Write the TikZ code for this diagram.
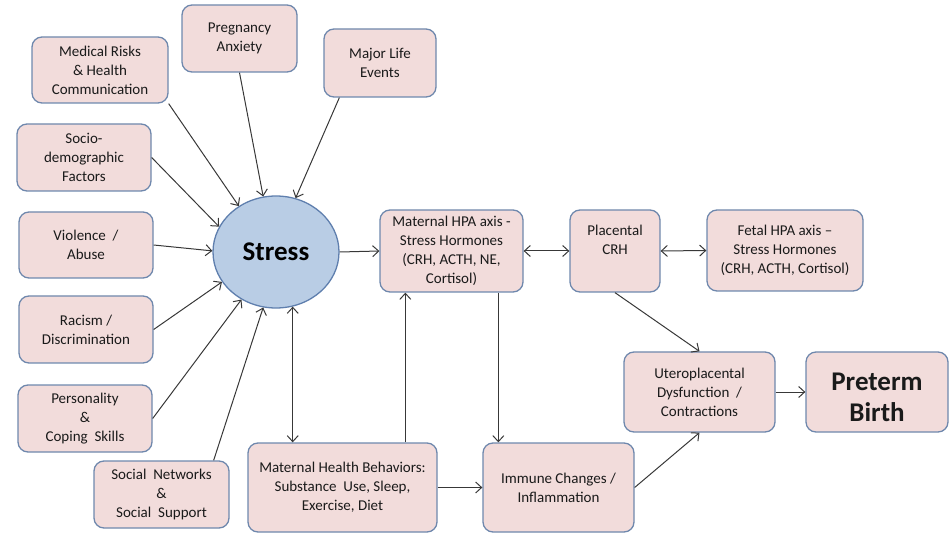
\documentclass[tikz,border=0pt]{standalone}
\usepackage{fontspec}
\setmainfont{Carlito}
\usetikzlibrary{arrows.meta,calc,shapes.geometric}
\definecolor{boxfill}{HTML}{F2DCDB}
\definecolor{boxline}{HTML}{6F88AD}
\definecolor{ellfill}{HTML}{B9CDE5}
\definecolor{ellline}{HTML}{5F7FAE}
\definecolor{arrcol}{HTML}{383838}
\definecolor{txt}{HTML}{1A1A1A}
\begin{document}
\begin{tikzpicture}[x=1pt,y=-1pt,
  box/.style={draw=boxline, fill=boxfill, line width=1.3pt, rounded corners=10pt,
    inner sep=0pt, align=center, text=txt,
    font=\fontsize{15}{19}\selectfont},
  arr/.style={draw=arrcol, line width=1pt, -{Straight Barb[length=6pt,width=11pt]}},
  dbl/.style={draw=arrcol, line width=1pt, {Straight Barb[length=6pt,width=11pt]}-{Straight Barb[length=6pt,width=11pt]}}
]
\useasboundingbox (0,0) rectangle (950,534);
% boxes
\node[box, minimum width=136pt, minimum height=66pt] (med) at (100,70) {Medical Risks\\\& Health\\Communication};
\node[box, minimum width=115pt, minimum height=67pt] (preg) at (239.5,38.5) {Pregnancy\\Anxiety};
\node[box, minimum width=112pt, minimum height=68pt] (major) at (380,63) {Major Life\\Events};
\node[box, minimum width=134pt, minimum height=67pt] (socio) at (84,157.5) {Socio-\\demographic\\Factors};
\node[box, minimum width=134pt, minimum height=66pt] (viol) at (86,245) {Violence\ \ /\\Abuse};
\node[box, minimum width=134pt, minimum height=67pt] (racism) at (86,329.5) {Racism /\\Discrimination};
\node[box, minimum width=134pt, minimum height=67pt] (pers) at (85,418.5) {Personality\\\&\\Coping\ \ Skills};
\node[box, minimum width=135pt, minimum height=67pt] (social) at (161.5,494.5) {Social\ \ Networks\\\&\\Social\ \ Support};
\node[box, minimum width=189pt, minimum height=89pt] (mhb) at (342.5,487.5) {Maternal Health Behaviors:\\Substance\ \ Use, Sleep,\\Exercise, Diet};
\node[box, minimum width=143pt, minimum height=82pt] (hpa) at (451.5,251) {Maternal HPA axis -\\Stress Hormones\\(CRH, ACTH, NE,\\Cortisol)};
\node[box, minimum width=90pt, minimum height=82pt] (plac) at (615,251) {Placental\\CRH\\[4pt]};
\node[box, minimum width=156pt, minimum height=81pt] (fetal) at (785,250.5) {Fetal HPA axis --\\Stress Hormones\\(CRH, ACTH, Cortisol)};
\node[box, minimum width=151pt, minimum height=80pt] (utero) at (699.5,392) {Uteroplacental\\Dysfunction\ \ /\\Contractions};
\node[box, minimum width=142pt, minimum height=80pt, font=\bfseries\fontsize{27}{31}\selectfont] (preterm) at (877,392) {\raisebox{-14pt}[0pt][0pt]{\begin{tabular}{@{}c@{}}Preterm\\Birth\end{tabular}}};
\node[box, minimum width=151pt, minimum height=89pt] (immune) at (558.5,487.5) {Immune Changes /\\Inflammation};
\node[ellipse, draw=ellline, fill=ellfill, line width=1.3pt, minimum width=126pt, minimum height=112pt, inner sep=0pt,
  font=\bfseries\fontsize{27}{32}\selectfont, text=black] (stress) at (276,252) {Stress};
% arrows into stress
\draw[arr] (med.south east) -- (stress.129);
\draw[arr] (preg.south) -- (stress.103);
\draw[arr] ($(major.south west)+(16,0)$) -- (stress.70);
\draw[arr] (socio.east) -- (stress.156);
\draw[arr] (viol.east) -- (stress.179);
\draw[arr] (racism.east) -- (stress.209.6);
\draw[arr] (pers.east) -- (stress.234);
\draw[arr] ($(social.north east)+(-16,0)$) -- (stress.257.4);
\coordinate (sb) at (stress.287.5);
\draw[dbl] (sb) -- (sb |- mhb.north);
% main chain
\draw[arr] (stress.east) -- (hpa.west);
\draw[dbl] (hpa.east) -- (plac.west);
\draw[dbl] (plac.east) -- (fetal.west);
\coordinate (a1) at ($(hpa.south west)+(26,0)$);
\draw[arr] (a1 |- mhb.north) -- (a1);
\coordinate (a2) at ($(hpa.south west)+(119,0)$);
\draw[arr] (a2) -- (a2 |- immune.north);
\draw[arr] (mhb.east) -- (immune.west);
\draw[arr] (immune.east) -- (utero.south);
\draw[arr] (plac.south) -- (utero.north);
\draw[arr] (utero.east) -- (preterm.west);
\end{tikzpicture}
\end{document}
